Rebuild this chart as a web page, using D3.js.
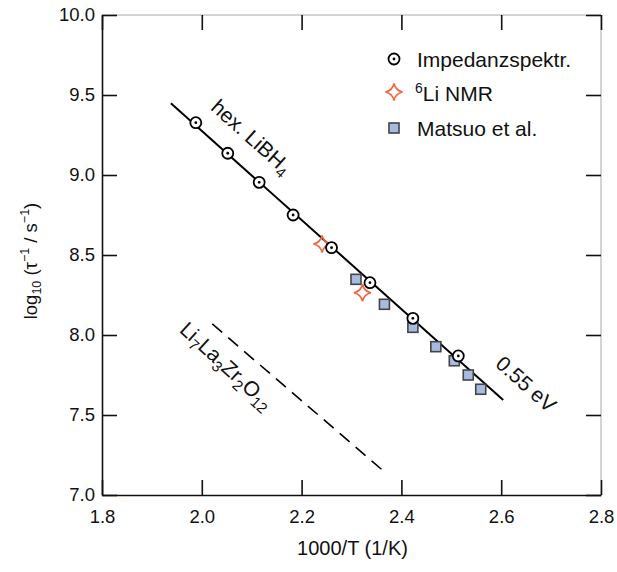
<!DOCTYPE html>
<html>
<head>
<meta charset="utf-8">
<script src="https://cdn.jsdelivr.net/npm/d3@7"></script>
<style>
  body { margin: 0; background: #fff; }
  text { font-family: "Liberation Sans", Arial, Helvetica, sans-serif; fill: #111; }
</style>
</head>
<body>
<div id="chart"></div>
<script>
// Relaxation rates of hex. LiBH4 vs inverse temperature (Arrhenius plot)
const xTicks = [1.8, 2.0, 2.2, 2.4, 2.6, 2.8];
const yTicks = [7.0, 7.5, 8.0, 8.5, 9.0, 9.5, 10.0];

// Impedanzspektr. (circles)
const impX = [1.988, 2.052, 2.115, 2.183, 2.260, 2.337, 2.423, 2.514];
const impY = [9.327, 9.136, 8.954, 8.750, 8.546, 8.327, 8.104, 7.869];
// 6Li NMR (stars)
const nmrX = [2.241, 2.322];
const nmrY = [8.569, 8.264];
// Matsuo et al. (squares)
const matX = [2.309, 2.366, 2.423, 2.469, 2.506, 2.534, 2.559];
const matY = [8.348, 8.192, 8.048, 7.927, 7.839, 7.750, 7.661];
// 0.55 eV fit line and Li7La3Zr2O12 reference line (end points)
const fitX = [1.938, 2.604];
const fitY = [9.448, 7.594];
const llzoX = [2.021, 2.372];
const llzoY = [8.069, 7.129];

(function(){
  const W = 617, H = 572;
  const margin = {top:15, right:16, bottom:77, left:102};
  const width = W - margin.left - margin.right;
  const height = H - margin.top - margin.bottom;

  const svg = d3.select('#chart').append('svg').attr('width', W).attr('height', H);
  const g = svg.append('g').attr('transform', `translate(${margin.left},${margin.top})`);

  const x = d3.scaleLinear().domain([1.8, 2.8]).range([0, width]);
  const y = d3.scaleLinear().domain([7.0, 10.0]).range([height, 0]);
  const fmt = d3.format('.1f');
  const tickLen = 15;

  // light frame on top/right
  g.append('path').attr('d', `M0,0H${width}V${height}`)
    .attr('fill', 'none').attr('stroke', '#aaa').attr('stroke-width', 1);

  // axes with inward ticks
  const axB = g.append('g').attr('transform', `translate(0,${height})`)
    .call(d3.axisBottom(x).tickValues(xTicks).tickFormat(fmt).tickSizeInner(-tickLen).tickSizeOuter(0).tickPadding(15));
  const axL = g.append('g')
    .call(d3.axisLeft(y).tickValues(yTicks).tickFormat(fmt).tickSizeInner(-tickLen).tickSizeOuter(0).tickPadding(7));
  const axR = g.append('g').attr('transform', `translate(${width},0)`)
    .call(d3.axisRight(y).tickValues(yTicks).tickSizeInner(-tickLen).tickSizeOuter(0).tickFormat(''));
  const axT = g.append('g')
    .call(d3.axisTop(x).tickValues(xTicks).tickSizeInner(-tickLen).tickSizeOuter(0).tickFormat(''));
  [axR, axT].forEach(a => a.select('.domain').remove());
  [axB, axL, axR, axT].forEach(a => {
    a.selectAll('path').attr('stroke', '#111').attr('stroke-width', 1.6);
    a.selectAll('line').attr('stroke', '#111').attr('stroke-width', 1.6);
    a.selectAll('text').style('font-size', '18.5px').attr('fill', '#111');
  });

  // axis titles
  svg.append('text').attr('x', margin.left + width / 2 + 1).attr('y', 555)
    .attr('text-anchor', 'middle').style('font-size', '20px').text('1000/T (1/K)');
  const yl = svg.append('text').attr('transform', 'translate(37,261) rotate(-90)')
    .attr('text-anchor', 'middle').style('font-size', '18.5px');
  yl.append('tspan').text('log');
  yl.append('tspan').text('10').style('font-size', '12.5px').attr('dy', 4);
  yl.append('tspan').text(' (τ').attr('dy', -4);
  yl.append('tspan').text('−1').style('font-size', '12.5px').attr('dy', -8);
  yl.append('tspan').text(' / s').attr('dy', 8);
  yl.append('tspan').text('−1').style('font-size', '12.5px').attr('dy', -8);
  yl.append('tspan').text(')').attr('dy', 8);

  // lines
  const line = d3.line().x(d => x(d[0])).y(d => y(d[1]));
  g.append('path').datum(d3.zip(fitX, fitY)).attr('d', line)
    .attr('fill', 'none').attr('stroke', '#000').attr('stroke-width', 2);
  g.append('path').datum(d3.zip(llzoX, llzoY)).attr('d', line)
    .attr('fill', 'none').attr('stroke', '#000').attr('stroke-width', 1.6).attr('stroke-dasharray', '13,8');

  // markers
  const starR = 8.5, sc = starR * 0.18;
  const starPath = `M0,${-starR}Q${sc},${-sc} ${starR},0Q${sc},${sc} 0,${starR}Q${-sc},${sc} ${-starR},0Q${-sc},${-sc} 0,${-starR}Z`;
  const starCol = '#f0653f';
  const sqFill = '#a7bbe0', sqStroke = '#444';

  function drawSquares(sel, data) {
    sel.selectAll(null).data(data).enter().append('rect')
      .attr('x', d => x(d[0]) - 5).attr('y', d => y(d[1]) - 5)
      .attr('width', 10).attr('height', 10)
      .attr('fill', sqFill).attr('stroke', sqStroke).attr('stroke-width', 1.6);
  }
  function drawCircles(sel, data) {
    const c = sel.selectAll(null).data(data).enter().append('g')
      .attr('transform', d => `translate(${x(d[0])},${y(d[1])})`);
    c.append('circle').attr('r', 5.5).attr('fill', '#fff').attr('stroke', '#000').attr('stroke-width', 1.8);
    c.append('circle').attr('r', 1.4).attr('fill', '#000');
  }
  function drawStars(sel, data) {
    sel.selectAll(null).data(data).enter().append('path')
      .attr('transform', d => `translate(${x(d[0])},${y(d[1])})`)
      .attr('d', starPath).attr('fill', 'none').attr('stroke', starCol).attr('stroke-width', 1.6);
  }
  drawSquares(g, d3.zip(matX, matY));
  drawStars(g, d3.zip(nmrX, nmrY));
  drawCircles(g, d3.zip(impX, impY));

  // rotated annotations
  const angFit = Math.atan2(y(fitY[1]) - y(fitY[0]), x(fitX[1]) - x(fitX[0])) * 180 / Math.PI;
  const angLl = Math.atan2(y(llzoY[1]) - y(llzoY[0]), x(llzoX[1]) - x(llzoX[0])) * 180 / Math.PI + 2;
  function note(px, py, ang) {
    return g.append('text').attr('transform', `translate(${x(px)},${y(py)}) rotate(${ang})`)
      .attr('text-anchor', 'middle').style('font-size', '21px');
  }
  const t1 = note(2.090, 9.205, angFit);
  t1.append('tspan').text('hex. LiBH');
  t1.append('tspan').text('4').style('font-size', '15px').attr('dy', 5);
  note(2.640, 7.659, angFit).text('0.55 eV');
  const t3 = note(2.040, 7.775, angLl);
  [['Li', ''], ['7', 's'], ['La', ''], ['3', 's'], ['Zr', ''], ['2', 's'], ['O', ''], ['12', 's']].forEach(([s, k], i) => {
    const ts = t3.append('tspan').text(s);
    if (k === 's') ts.style('font-size', '15px').attr('dy', 5);
    else if (i > 0) ts.attr('dy', -5);
  });

  // legend
  const lg = svg.append('g');
  const legX = 394, textX = 417;
  const legY = [59, 92, 128];
  drawCircles(lg.append('g').attr('transform', `translate(${legX - x(impX[0])},${legY[0] - y(impY[0])})`), [[impX[0], impY[0]]]);
  lg.append('text').attr('x', textX).attr('y', legY[0] + 8).style('font-size', '21px').text('Impedanzspektr.');
  lg.append('path').attr('transform', `translate(${legX},${legY[1]})`).attr('d', starPath)
    .attr('fill', 'none').attr('stroke', starCol).attr('stroke-width', 1.6);
  const nmr = lg.append('text').attr('x', textX - 2).attr('y', legY[1] + 9).style('font-size', '21px');
  nmr.append('tspan').text('6').style('font-size', '14px').attr('dy', -8);
  nmr.append('tspan').text('Li NMR').attr('dy', 8);
  lg.append('rect').attr('x', legX - 5).attr('y', legY[2] - 5).attr('width', 10).attr('height', 10)
    .attr('fill', sqFill).attr('stroke', sqStroke).attr('stroke-width', 1.6);
  lg.append('text').attr('x', textX).attr('y', legY[2] + 8).style('font-size', '21px').text('Matsuo et al.');
})();
</script>
</body>
</html>
